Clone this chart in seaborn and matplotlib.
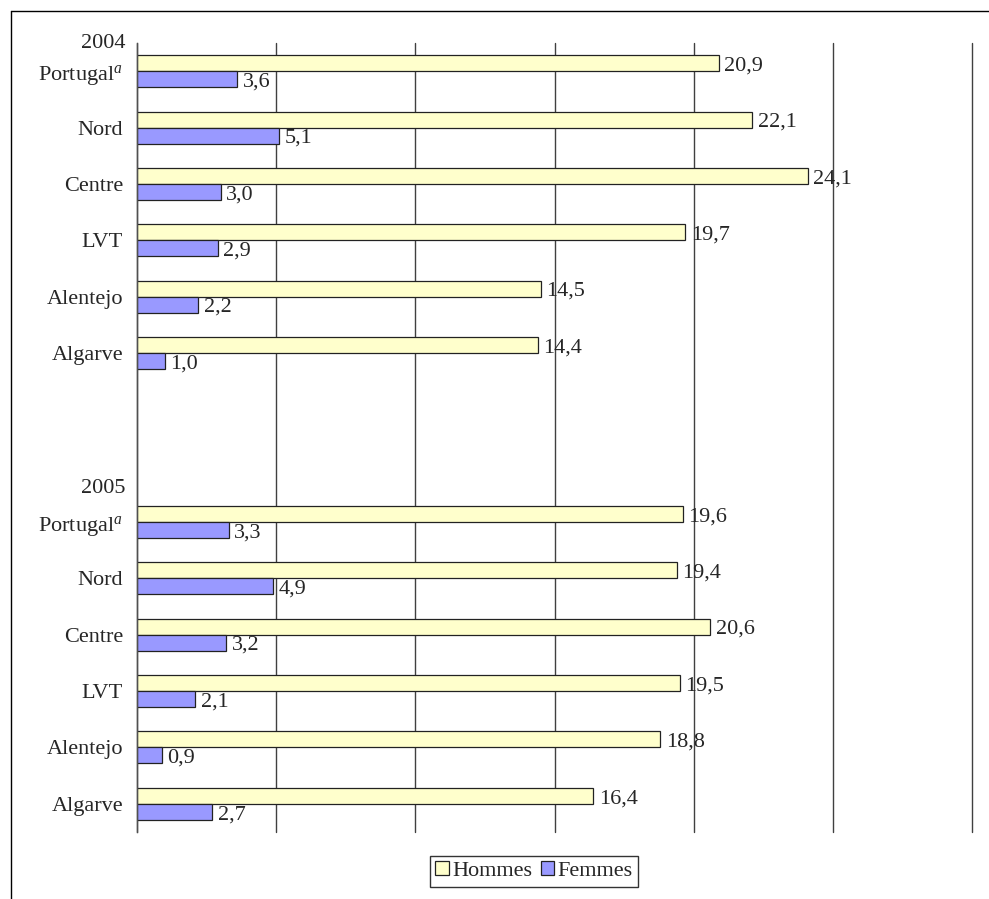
import matplotlib
matplotlib.use("Agg")
import matplotlib.pyplot as plt
import matplotlib.lines as mlines
import pandas as pd
import seaborn as sns

years = ["2004", "2005"]
regions = ["Portugal$^{a}$", "Nord", "Centre", "LVT", "Alentejo", "Algarve"]
hommes_2004 = [20.9, 22.1, 24.1, 19.7, 14.5, 14.4]
femmes_2004 = [3.6, 5.1, 3.0, 2.9, 2.2, 1.0]
hommes_2005 = [19.6, 19.4, 20.6, 19.5, 18.8, 16.4]
femmes_2005 = [3.3, 4.9, 3.2, 2.1, 0.9, 2.7]
series = ["Hommes", "Femmes"]
colors = ["#FFFFCC", "#9999FF"]

rows = []
for year, h_vals, f_vals in [("2004", hommes_2004, femmes_2004),
                             ("2005", hommes_2005, femmes_2005)]:
    for reg, h, f in zip(regions, h_vals, f_vals):
        key = year + " " + reg
        rows.append({"cat": key, "sexe": "Hommes", "val": h})
        rows.append({"cat": key, "sexe": "Femmes", "val": f})
df = pd.DataFrame(rows)

order = ["2004 " + r for r in regions] + ["blank1", "blank2"] + ["2005 " + r for r in regions]
labels = regions + ["", ""] + regions

sns.set_style("white")
plt.rcParams["font.family"] = ["Liberation Serif", "DejaVu Serif"]
plt.rcParams["mathtext.fontset"] = "custom"
plt.rcParams["mathtext.rm"] = "Liberation Serif"
plt.rcParams["mathtext.it"] = "Liberation Serif:italic"

fig = plt.figure(figsize=(9.89, 8.99), dpi=100)
ax = fig.add_axes([137 / 989, (899 - 832) / 899, (972 - 137) / 989, (832 - 43) / 899])

sns.barplot(data=df, y="cat", x="val", hue="sexe", order=order, hue_order=series,
            palette=colors, saturation=1, orient="h", width=0.567,
            edgecolor="#222222", linewidth=0.9, ax=ax, legend=True)

for cont in ax.containers:
    txts = ax.bar_label(cont, labels=[f"{v:.1f}".replace(".", ",") for v in cont.datavalues],
                        padding=4, fontsize=16)
    for t in txts:
        t.xyann = (4, -2)

ax.set_xlim(0, 30)
ax.set_ylim(13.5, -0.5)
ax.set_xticks([0, 5, 10, 15, 20, 25, 30])
ax.set_xticklabels([])
ax.xaxis.grid(True, color="#404040", linewidth=1)
for gl in ax.get_xgridlines():
    gl.set_clip_on(False)
ax.set_axisbelow(True)
ax.set_yticks(range(len(order)))
ax.set_yticklabels(labels, fontsize=16)
ax.tick_params(axis="y", length=0, pad=10)
ax.tick_params(axis="x", length=0)
ax.set_xlabel("")
ax.set_ylabel("")
for side in ["top", "right", "bottom"]:
    ax.spines[side].set_visible(False)
ax.spines["left"].set_color("#505050")
ax.spines["left"].set_linewidth(1)

# year labels above each block
for yr, ypos in zip(years, [-0.5, 7.4]):
    ax.text(-12 / 835, ypos, yr, ha="right", va="center", fontsize=16,
            transform=ax.get_yaxis_transform(), clip_on=False)

leg = ax.legend(loc="center", bbox_to_anchor=(534 / 989, 28 / 899),
                bbox_transform=fig.transFigure, ncol=2, fontsize=16,
                frameon=True, fancybox=False, handlelength=0.6, handleheight=0.6,
                handletextpad=0.15, columnspacing=0.4, borderpad=0.25)
leg.get_frame().set_edgecolor("black")
leg.get_frame().set_linewidth(1)

# outer frame (top and left edges visible in the source)
fig.add_artist(mlines.Line2D([11 / 989, 1], [1 - 11 / 899, 1 - 11 / 899],
                             color="black", linewidth=1))
fig.add_artist(mlines.Line2D([11 / 989, 11 / 989], [0, 1 - 11 / 899],
                             color="black", linewidth=1))

fig.savefig("out.png", dpi=100)
